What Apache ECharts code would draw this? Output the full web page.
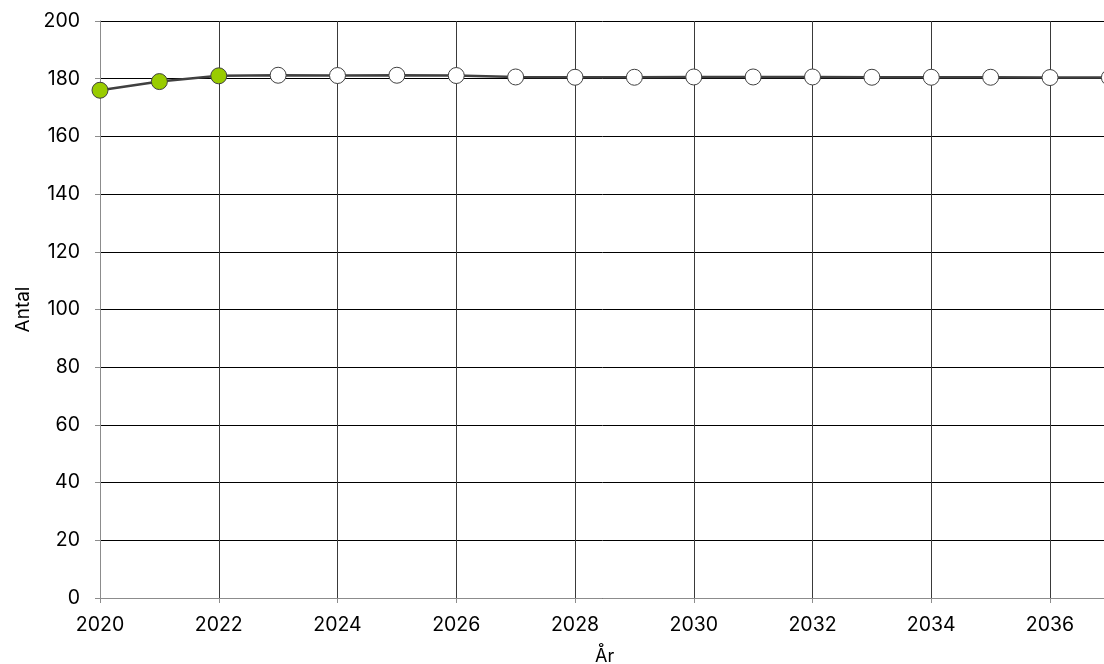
<!DOCTYPE html>
<html>
<head>
<meta charset="utf-8">
<script src="https://cdn.jsdelivr.net/npm/echarts@6/dist/echarts.min.js"></script>
<style>html,body{margin:0;padding:0;background:#fff}#c{width:1104px;height:664px}</style>
</head>
<body>
<div id="c"></div>
<script>
const years = [2020,2021,2022,2023,2024,2025,2026,2027,2028,2029,2030,2031,2032,2033,2034,2035,2036,2037];
const values = [176,179,181,181.2,181.1,181.2,181.1,180.6,180.5,180.5,180.6,180.6,180.6,180.5,180.5,180.5,180.4,180.4];
const observedCount = 3; // 2020-2022 are observed (green markers)
const yTicks = [0,20,40,60,80,100,120,140,160,180,200];

const FONT = 'Inter';
const chart = echarts.init(document.getElementById('c'));
const data = years.map((y,i)=>({
  value:[y, values[i]],
  itemStyle:{color: i < observedCount ? '#99cc00' : '#ffffff'}
}));
chart.setOption({
  animation:false,
  grid:{left:100, width:1009.4, top:21, bottom:66, containLabel:false, outerBoundsMode:'none'},
  xAxis:{
    type:'value', min:2020, max:2037, interval:2,
    name:'År', nameLocation:'middle', nameGap:50,
    nameTextStyle:{fontFamily:FONT, fontSize:18, color:'#000'},
    axisLine:{show:true, lineStyle:{color:'#8c8c8c', width:1}},
    axisTick:{show:true, length:5, lineStyle:{color:'#8c8c8c'}},
    axisLabel:{fontFamily:FONT, fontSize:19.5, color:'#000', margin:17, showMaxLabel:false,
      formatter:v=>String(v)},
    splitLine:{show:true, lineStyle:{color:'#3a3a3a', width:1}}
  },
  yAxis:{
    type:'value', min:yTicks[0], max:yTicks[yTicks.length-1], interval:20,
    name:'Antal', nameLocation:'middle', nameGap:64, nameRotate:90,
    nameTextStyle:{fontFamily:FONT, fontSize:19, color:'#000'},
    axisLine:{show:true, lineStyle:{color:'#8c8c8c', width:1}},
    axisTick:{show:true, length:5, lineStyle:{color:'#8c8c8c'}},
    axisLabel:{fontFamily:FONT, fontSize:19.5, color:'#000', margin:20},
    splitLine:{show:true, lineStyle:{color:'#000', width:1}}
  },
  series:[{
    type:'line',
    data:data,
    symbol:'circle', symbolSize:16,
    lineStyle:{color:'#404040', width:2.5},
    itemStyle:{borderColor:'#404040', borderWidth:1},
    z:5
  }]
});
</script>
</body>
</html>
